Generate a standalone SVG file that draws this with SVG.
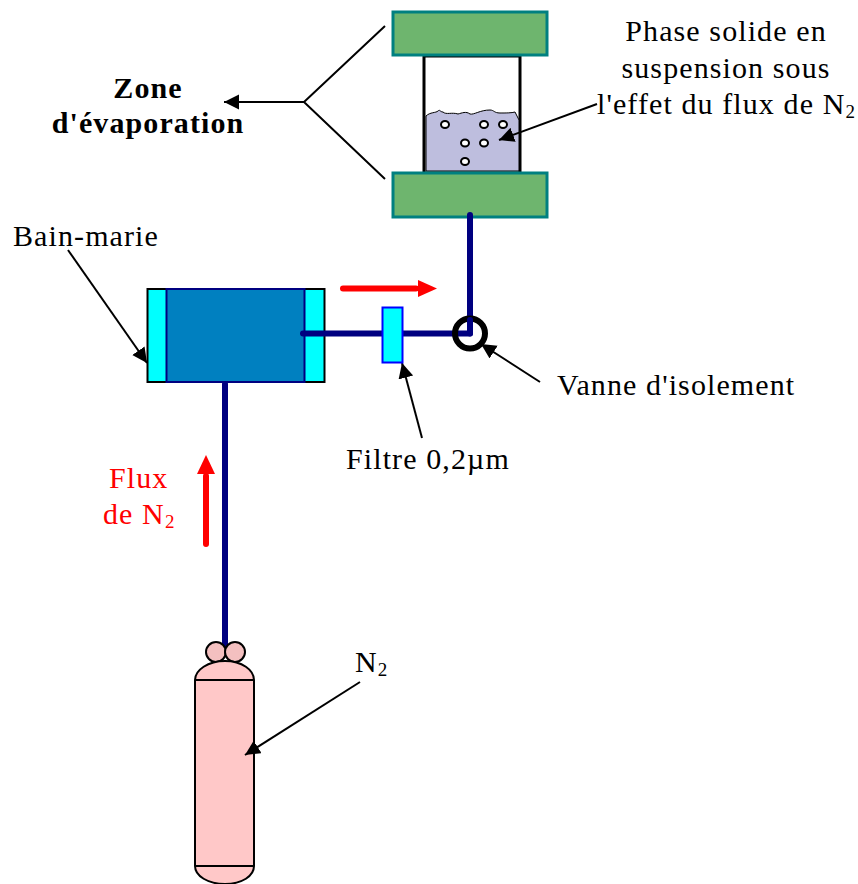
<svg xmlns="http://www.w3.org/2000/svg" width="858" height="884" viewBox="0 0 858 884">
<style>
text{font-family:"Liberation Serif","Times New Roman",serif;font-size:30px;letter-spacing:1.1px;fill:#000}
.sub{font-size:19px}
.b{font-weight:bold}
.r{fill:#f00}
.pipe{fill:none;stroke:#000080;stroke-width:6;stroke-linecap:round;stroke-linejoin:round}
.ln{fill:none;stroke:#000;stroke-width:2}
.arr{fill:none;stroke:#000;stroke-width:2;marker-end:url(#ah)}
.red{fill:none;stroke:#f00;stroke-width:6;stroke-linecap:round}
.plate{fill:#6eb56e;stroke:#008080;stroke-width:3}
.bub{fill:#fff;stroke:#000;stroke-width:2}
.body{fill:#ffc8c8;stroke:#000;stroke-width:2}
</style>
<defs>
<marker id="ah" markerUnits="userSpaceOnUse" markerWidth="17" markerHeight="17" refX="15" refY="7.500" orient="auto"><path d="M0 0L15 7.500L0 15z" fill="#000"/></marker>
</defs>
<g id="chamber">
<rect x="424" y="56" width="96" height="117" fill="#fff" stroke="#000" stroke-width="3"/>
<path d="M426 116C430 112 436 113 438 111C440 109 440 112 443 112C446 115 452 112 458 114C462 113 466 111 470 114C474 115 480 110 490 110C494 110 494 113 500 113C505 113 512 113 515 112L519 120V171H426z" fill="#bebede" stroke="#000" stroke-width="1"/>
<ellipse class="bub" cx="445" cy="124.500" rx="4" ry="3.500"/>
<ellipse class="bub" cx="484" cy="124.500" rx="4" ry="3.500"/>
<ellipse class="bub" cx="503" cy="124.500" rx="4" ry="3.500"/>
<ellipse class="bub" cx="465" cy="143" rx="4" ry="3.500"/>
<ellipse class="bub" cx="484" cy="143" rx="4" ry="3.500"/>
<ellipse class="bub" cx="465" cy="161.500" rx="4" ry="3.500"/>
</g>
<g id="plate-top"><rect class="plate" x="393" y="12" width="154" height="43"/></g>
<g id="plate-bottom"><rect class="plate" x="393" y="173" width="154" height="44"/></g>
<g id="bain-marie">
<rect x="147.500" y="289" width="177" height="93" fill="#0ff" stroke="#000" stroke-width="2"/>
<rect x="166.500" y="289" width="138" height="93" fill="#0080c0" stroke="#000080" stroke-width="2"/>
</g>
<g id="bouteille">
<path class="pipe" d="M225 384V650"/>
<circle cx="216" cy="652" r="10" fill="#f4c0c0" stroke="#000" stroke-width="2"/>
<circle cx="235" cy="652" r="10" fill="#f4c0c0" stroke="#000" stroke-width="2"/>
<path class="body" d="M195 680C195 670 208 661 225 661C242 661 254 670 254 680V866C254 876 242 884 225 884C208 884 195 876 195 866z"/>
<path class="ln" d="M195 680H254M195 866H254"/>
</g>
<g id="connectors">
<path class="pipe" d="M303 333.500H470V215"/>
<path class="red" d="M343 288.500H416"/>
<path d="M418 280L437 288.500L418 297z" fill="#f00"/>
<path class="red" d="M206 544V476"/>
<path d="M197 474L206 455L215 474z" fill="#f00"/>
<path class="ln" d="M385 26L304 102L385 179"/>
<path class="arr" d="M304 102H224"/>
<path class="arr" d="M597 104L499 140"/>
<path class="arr" d="M68 250L147 363"/>
<path class="arr" d="M540 382L481 344"/>
<path class="arr" d="M422 438L402 363"/>
<path class="arr" d="M360 682L245 755"/>
</g>
<g id="filtre"><rect x="382.500" y="307.500" width="20" height="55" fill="#0ff" stroke="#00f" stroke-width="2"/></g>
<g id="vanne"><circle cx="470" cy="333.500" r="15" fill="none" stroke="#000" stroke-width="6"/><path class="pipe" d="M470 333.500V320"/></g>
<g id="labels">
<text class="b" x="148" y="98" text-anchor="middle">Zone</text>
<text class="b" x="148" y="133" text-anchor="middle">d'évaporation</text>
<text x="726" y="41" text-anchor="middle">Phase solide en</text>
<text x="726" y="78" text-anchor="middle">suspension sous</text>
<text x="597" y="114">l'effet du flux de N<tspan class="sub" dy="4">2</tspan></text>
<text x="13" y="246">Bain-marie</text>
<text x="557" y="395">Vanne d'isolement</text>
<text x="346" y="469">Filtre 0,2µm</text>
<text class="r" x="109" y="488">Flux</text>
<text class="r" x="103" y="524">de N<tspan class="sub" dy="4">2</tspan></text>
<text x="355" y="672">N<tspan class="sub" dy="4">2</tspan></text>
</g>
</svg>
